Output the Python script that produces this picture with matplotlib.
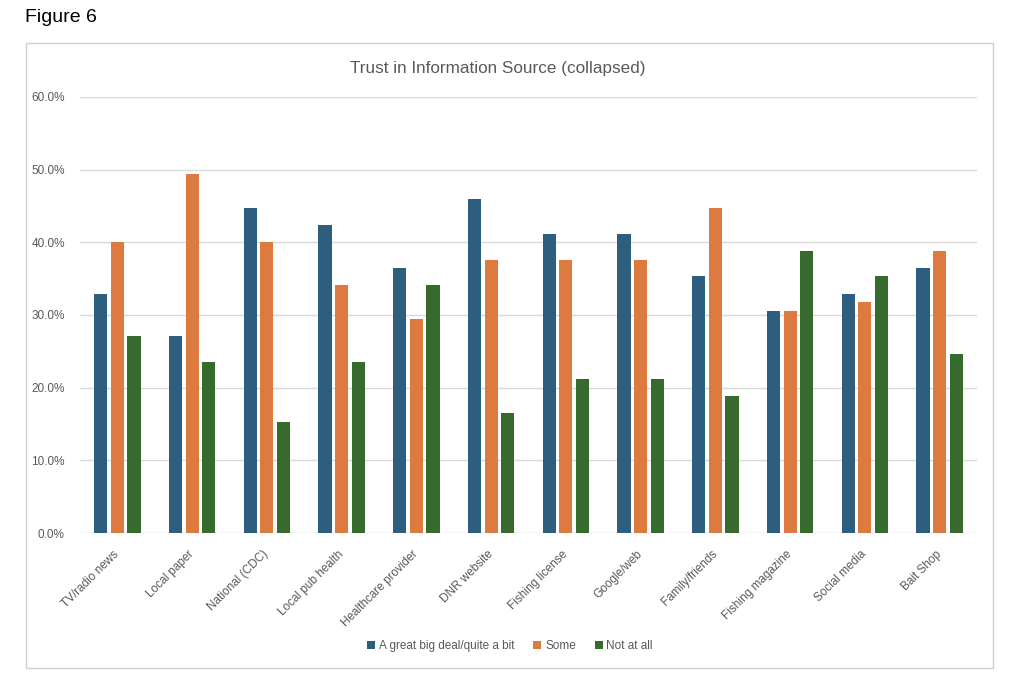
import matplotlib
matplotlib.use("Agg")
import matplotlib.pyplot as plt
import numpy as np
from matplotlib.patches import Rectangle

# Data (share of respondents)
categories = ["TV/radio news", "Local paper", "National (CDC)", "Local pub health",
              "Healthcare provider", "DNR website", "Fishing license", "Google/web",
              "Family/friends", "Fishing magazine", "Social media", "Bait Shop"]
great_deal = [0.329, 0.271, 0.447, 0.424, 0.365, 0.459, 0.412, 0.412, 0.353, 0.306, 0.329, 0.365]
some = [0.400, 0.494, 0.400, 0.341, 0.294, 0.376, 0.376, 0.376, 0.447, 0.306, 0.318, 0.388]
not_at_all = [0.271, 0.235, 0.153, 0.235, 0.341, 0.165, 0.212, 0.212, 0.188, 0.388, 0.353, 0.247]
series_labels = ["A great big deal/quite a bit", "Some", "Not at all"]
y_ticks = [0.0, 0.1, 0.2, 0.3, 0.4, 0.5, 0.6]

colors = ["#2e5e7e", "#dc7a40", "#366b2d"]
text_grey = "#595959"

plt.rcParams["font.family"] = ["Liberation Sans Narrow", "Liberation Sans", "DejaVu Sans"]

W, H = 1024, 673
fig = plt.figure(figsize=(W / 100, H / 100), dpi=100)

# chart frame
fig.patches.append(Rectangle((26 / W, 1 - 668 / H), (993 - 26) / W, (668 - 43) / H,
                             transform=fig.transFigure, fill=False,
                             edgecolor="#d0d0d0", linewidth=1.0))
fig.text(25 / W, 1 - 18 / H, "Figure 6", fontsize=14, va="center", ha="left",
         family=["Liberation Sans", "DejaVu Sans"], color="black")
fig.text(498 / W, 1 - 68 / H, "Trust in Information Source (collapsed)", fontsize=12.3,
         va="center", ha="center", color=text_grey)

ax = fig.add_axes([80 / W, 1 - 533 / H, (977 - 80) / W, (533 - 97) / H])

x = np.arange(len(categories))
width = 0.175
step = 0.222
for i, (vals, lab) in enumerate(zip([great_deal, some, not_at_all], series_labels)):
    ax.bar(x + (i - 1) * step, vals, width, color=colors[i], label=lab, zorder=3)

ax.set_xlim(-0.5, len(categories) - 0.5)
ax.set_ylim(0, 0.6)
ax.set_yticks(y_ticks)
ax.set_yticklabels([f"{v * 100:.1f}%" for v in y_ticks], fontsize=8.5, color=text_grey)
ax.set_xticks(x)
ax.set_xticklabels(categories, rotation=45, ha="right", va="center", rotation_mode="anchor",
                   fontsize=8.5, color=text_grey)
ax.tick_params(axis="y", length=0, pad=11)
ax.tick_params(axis="x", length=0, pad=14)
ax.grid(axis="y", color="#d9d9d9", linewidth=1.0, zorder=0)
for s in ax.spines.values():
    s.set_visible(False)

handles, labels = ax.get_legend_handles_labels()
fig.legend(handles, labels, loc="center", bbox_to_anchor=(510 / W, 1 - 646 / H), ncol=3,
           frameon=False, fontsize=8.5, handlelength=0.7, handleheight=0.7,
           handletextpad=0.3, columnspacing=1.6, labelcolor=text_grey)

fig.savefig("out.png", dpi=100, facecolor="white")
